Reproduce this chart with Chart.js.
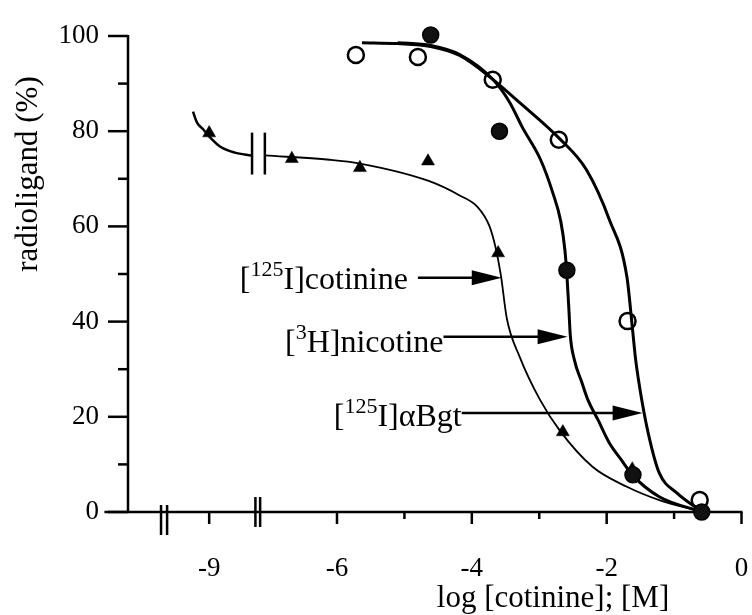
<!DOCTYPE html>
<html>
<head>
<meta charset="utf-8">
<title>Radioligand displacement by cotinine</title>
<script src="https://cdn.jsdelivr.net/npm/chart.js@4.4.1/dist/chart.umd.min.js"></script>
<style>
  html, body { margin: 0; padding: 0; background: #fff; }
  #chart { display: block; }
</style>
</head>
<body>
<canvas id="chart" width="752" height="615"></canvas>
<script>
// ---- values: x = log [cotinine] (M), y = % radioligand ----

// axis ticks
const X_TICK_VALUES = [-9, -6, -5, -4, -3, -2, -1, 0];
const X_TICK_LABELS = ['-9', '-6', '', '-4', '', '-2', '', '0'];
const Y_TICK_VALUES = [0, 10, 20, 30, 40, 50, 60, 70, 80, 90, 100];
const Y_TICK_LABELS = ['0', '', '20', '', '40', '', '60', '', '80', '', '100'];

// measured points
const bgtX = [-5.72, -4.80, -3.69, -2.71, -1.69, -0.62];          // open circles, [125I]aBgt
const bgtY = [96.0, 95.6, 90.8, 78.2, 40.1, 2.5];
const nicX = [-4.61, -3.59, -2.59, -1.61, -0.59];                 // filled circles, [3H]nicotine
const nicY = [100.2, 80.0, 50.8, 7.8, 0];
const cotX = [-9, -6.67, -5.66, -4.65, -3.61, -2.65, -1.62, -0.6]; // triangles, [125I]cotinine
const cotY = [79.6, 74.2, 72.3, 73.7, 54.4, 16.8, 9.0, 0];

// fitted curves, traced
const bgtFitX = [-5.63, -5.10, -4.61, -4.18, -3.69, -3.29, -2.71, -2.30, -1.96, -1.70, -1.62, -1.57, -1.48, -1.36, -1.22, -0.96, -0.58];
const bgtFitY = [98.6, 98.4, 97.8, 95.9, 90.9, 86.0, 78.6, 71.9, 61.4, 49.4, 38.9, 32.0, 23.6, 15.1, 8.2, 4.0, 0];
const nicFitX = [-5.10, -4.61, -4.18, -3.69, -3.44, -3.25, -2.98, -2.80, -2.68, -2.62, -2.59, -2.56, -2.54, -2.48, -2.37, -2.28, -2.13, -1.96, -1.78, -1.62, -1.22, -0.58];
const nicFitY = [98.6, 98.0, 96.1, 90.9, 86.1, 80.8, 74.0, 67.1, 61.0, 55.1, 49.8, 42.5, 37.2, 32.0, 27.3, 23.6, 19.4, 14.5, 10.9, 7.8, 3.2, 0];
const cotFitLeftX = [-9.24, -9.18, -9.09, -9.00, -8.84, -8.62, -8.37];
const cotFitLeftY = [84.1, 81.8, 80.4, 78.9, 76.8, 75.5, 74.9];
const cotFitRightX = [-7.07, -6.11, -5.66, -4.65, -4.18, -3.91, -3.74, -3.65, -3.57, -3.48, -3.29, -2.99, -2.70, -2.21, -1.70, -1.22, -0.58];
const cotFitRightY = [74.9, 74.0, 73.2, 69.6, 66.5, 64.0, 60.1, 55.7, 49.8, 40.6, 32.6, 23.6, 17.2, 9.5, 5.3, 2.5, 0];

// the axis is broken between about -8.3 and -7.2; values left of it get shifted
const BREAK_SHIFT = 1.104;
const brk = v => (v < -8 ? v + BREAK_SHIFT : v);
const pts = (xs, ys) => xs.map((v, i) => ({ x: brk(v), y: ys[i] }));

const FONT = '"Liberation Serif", "Times New Roman", serif';
const X_MIN = -9.1;          // where the y axis stands (display units)
const X_AXIS_START = -9.45;  // x axis line reaches a bit left of the y axis

// break marks on the x axis (display units) and on the cotinine curve
const AXIS_BREAKS = [
  { xs: [-8.61, -8.52], top: -7, bottom: 23 },
  { xs: [-7.21, -7.14], top: -15, bottom: 15 }
];
const CURVE_BREAK = { xs: [-7.26, -7.07], y0: 79.7, y1: 70.9 };

const LABELS = [
  { parts: [['[', 0], ['125', 1], ['I]cotinine', 0]], y: 49.2, tail: -4.80, tip: -3.556, gap: 10, drop: 11 },
  { parts: [['[', 0], ['3', 1], ['H]nicotine', 0]], y: 36.8, tail: -4.42, tip: -2.579, gap: 0, drop: 15 },
  { parts: [['[', 0], ['125', 1], ['I]\u03B1Bgt', 0]], y: 20.8, tail: -4.15, tip: -1.467, gap: 0, drop: 13 }
];

function line(ctx, x1, y1, x2, y2) {
  ctx.beginPath();
  ctx.moveTo(x1, y1);
  ctx.lineTo(x2, y2);
  ctx.stroke();
}

const axesPlugin = {
  id: 'axes',
  beforeDatasetsDraw(chart) {
    const { ctx, chartArea, scales: { x, y } } = chart;
    const ax = chartArea.left;
    const ay = y.getPixelForValue(0);
    ctx.save();
    ctx.strokeStyle = '#000';
    ctx.lineWidth = 2.5;
    line(ctx, x.getPixelForValue(X_AXIS_START), ay, x.getPixelForValue(0) + 1, ay);
    line(ctx, ax, ay + 1, ax, y.getPixelForValue(100) - 1);
    x.ticks.forEach((t, i) => {
      const px = x.getPixelForValue(t.value);
      line(ctx, px, ay, px, ay + (X_TICK_LABELS[i] ? 12 : 7));
    });
    y.ticks.forEach((t, i) => {
      const py = y.getPixelForValue(t.value);
      line(ctx, ax - (Y_TICK_LABELS[i] ? 20 : 10), py, ax, py);
    });
    AXIS_BREAKS.forEach(b => b.xs.forEach(v => {
      const px = x.getPixelForValue(v);
      line(ctx, px, ay + b.top, px, ay + b.bottom);
    }));
    ctx.restore();
  },
  afterDatasetsDraw(chart) {
    const { ctx, scales: { x, y } } = chart;
    ctx.save();
    ctx.strokeStyle = '#000';
    ctx.fillStyle = '#000';
    ctx.lineWidth = 2.5;
    CURVE_BREAK.xs.forEach(v => {
      const px = x.getPixelForValue(v);
      line(ctx, px, y.getPixelForValue(CURVE_BREAK.y0), px, y.getPixelForValue(CURVE_BREAK.y1));
    });

    // labels with arrows
    LABELS.forEach(l => {
      const py = y.getPixelForValue(l.y);
      const tail = x.getPixelForValue(l.tail);
      const tip = x.getPixelForValue(l.tip);
      const fonts = [`32px ${FONT}`, `22px ${FONT}`];
      let w = 0;
      l.parts.forEach(([s, sup]) => { ctx.font = fonts[sup]; w += ctx.measureText(s).width; });
      let tx = tail - l.gap - w;
      ctx.textBaseline = 'alphabetic';
      ctx.textAlign = 'left';
      l.parts.forEach(([s, sup]) => {
        ctx.font = fonts[sup];
        ctx.fillText(s, tx, py + l.drop - (sup ? 13 : 0));
        tx += ctx.measureText(s).width;
      });
      line(ctx, tail, py, tip - 20, py);
      ctx.beginPath();
      ctx.moveTo(tip, py);
      ctx.lineTo(tip - 30, py - 7.5);
      ctx.lineTo(tip - 30, py + 7.5);
      ctx.closePath();
      ctx.fill();
    });
    ctx.restore();
  },
  afterDraw(chart) {
    const { ctx } = chart;
    ctx.save();
    ctx.fillStyle = '#000';
    ctx.font = `31px ${FONT}`;
    ctx.textAlign = 'center';
    ctx.textBaseline = 'middle';
    ctx.fillText('log [cotinine]; [M]', 553, 599);
    ctx.translate(29, 174);
    ctx.rotate(-Math.PI / 2);
    ctx.fillText('radioligand (%)', 0, 0);
    ctx.restore();
  }
};

const curve = (data, width) => ({
  type: 'line',
  data,
  borderColor: '#000',
  borderWidth: width,
  pointRadius: 0,
  cubicInterpolationMode: 'monotone',
  fill: false,
  clip: false
});

new Chart(document.getElementById('chart'), {
  type: 'scatter',
  data: {
    datasets: [
      { label: '[3H]nicotine', data: pts(nicX, nicY), pointStyle: 'circle', pointRadius: 8,
        backgroundColor: '#111', borderColor: '#000', borderWidth: 1.5, clip: false },
      { label: '[125I]cotinine', data: pts(cotX, cotY), pointStyle: 'triangle', pointRadius: 7.5,
        backgroundColor: '#000', borderColor: '#000', borderWidth: 0.5, clip: false },
      { label: '[125I]aBgt', data: pts(bgtX, bgtY), pointStyle: 'circle', pointRadius: 8,
        backgroundColor: 'rgba(0,0,0,0)', borderColor: '#000', borderWidth: 2.5, clip: false },
      curve(pts(bgtFitX, bgtFitY), 3),
      curve(pts(nicFitX, nicFitY), 3),
      curve(pts(cotFitLeftX, cotFitLeftY), 2.5),
      curve(pts(cotFitRightX, cotFitRightY), 1.8)
    ]
  },
  options: {
    responsive: false,
    animation: false,
    events: [],
    layout: { padding: { top: 36, right: 10, left: 0, bottom: 0 } },
    plugins: { legend: { display: false }, tooltip: { enabled: false } },
    scales: {
      x: {
        type: 'linear',
        min: X_MIN,
        max: 0,
        afterFit: s => { s.height = 103; s.paddingLeft = 0; s.paddingRight = 0; },
        afterBuildTicks: s => { s.ticks = X_TICK_VALUES.map(v => ({ value: brk(v) })); },
        grid: { display: false },
        border: { display: false },
        ticks: {
          autoSkip: false, maxRotation: 0, padding: 33, color: '#000',
          font: { family: FONT, size: 27 },
          callback: (v, i) => X_TICK_LABELS[i]
        }
      },
      y: {
        min: 0,
        max: 100,
        afterFit: s => { s.width = 128; s.paddingTop = 0; s.paddingBottom = 0; },
        afterBuildTicks: s => { s.ticks = Y_TICK_VALUES.map(v => ({ value: v })); },
        grid: { display: false },
        border: { display: false },
        ticks: {
          autoSkip: false, padding: 21, color: '#000',
          font: { family: FONT, size: 27 },
          callback: (v, i) => Y_TICK_LABELS[i]
        }
      }
    }
  },
  plugins: [axesPlugin]
});
</script>
</body>
</html>
